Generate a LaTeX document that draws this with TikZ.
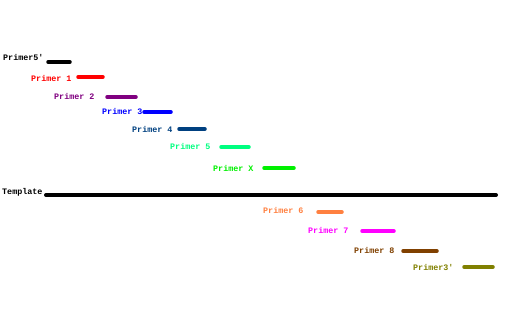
\documentclass[tikz,border=0pt]{standalone}
\usepackage{fontspec}
\setmonofont{Liberation Mono}
\begin{document}
\begin{tikzpicture}[x=1pt,y=-1pt,
  lbl/.style={anchor=west,inner sep=0pt,font=\ttfamily\bfseries\fontsize{8.4}{9}\selectfont},
  bar/.style={line width=3.5pt,line cap=round}]
\definecolor{cP2}{RGB}{128,0,128}
\definecolor{cP4}{RGB}{0,64,128}
\definecolor{cP5}{RGB}{0,255,128}
\definecolor{cPX}{RGB}{0,240,0}
\definecolor{cP6}{RGB}{255,128,64}
\definecolor{cP7}{RGB}{255,0,255}
\definecolor{cP8}{RGB}{128,64,0}
\definecolor{cP3e}{RGB}{128,128,0}
\useasboundingbox (0,0) rectangle (519,324);
\node[lbl] (l5) at (3,57) {Primer5'};
\draw[bar,black] (48,62) -- (70,62);
\node[lbl,red] (l1) at (31,78) {Primer 1};
\draw[bar,red] (78,77) -- (103,77);
\node[lbl,cP2] (l2) at (54,96) {Primer 2};
\draw[bar,cP2] (107,97) -- (136,97);
\node[lbl,blue] (l3) at (102,112) {Primer 3};
\draw[bar,blue] (144,112) -- (171,112);
\node[lbl,cP4] (l4) at (132,129) {Primer 4};
\draw[bar,cP4] (179,129) -- (205,129);
\node[lbl,cP5] (l5b) at (170,146) {Primer 5};
\draw[bar,cP5] (221,147) -- (249,147);
\node[lbl,cPX] (lX) at (213,168) {Primer X};
\draw[bar,cPX] (264,168) -- (294,168);
\node[lbl] (lt) at (2,192) {Template};
\draw[line width=4pt,line cap=round,black] (46,195) -- (496,195);
\node[lbl,cP6] (l6) at (263,210) {Primer 6};
\draw[bar,cP6] (318,212) -- (342,212);
\node[lbl,cP7] (l7) at (308,230) {Primer 7};
\draw[bar,cP7] (362,231) -- (394,231);
\node[lbl,cP8] (l8) at (354,250) {Primer 8};
\draw[bar,cP8] (403,251) -- (437,251);
\node[lbl,cP3e] (l3e) at (413,267) {Primer3'};
\draw[bar,cP3e] (464,267) -- (493,267);
\end{tikzpicture}
\end{document}
